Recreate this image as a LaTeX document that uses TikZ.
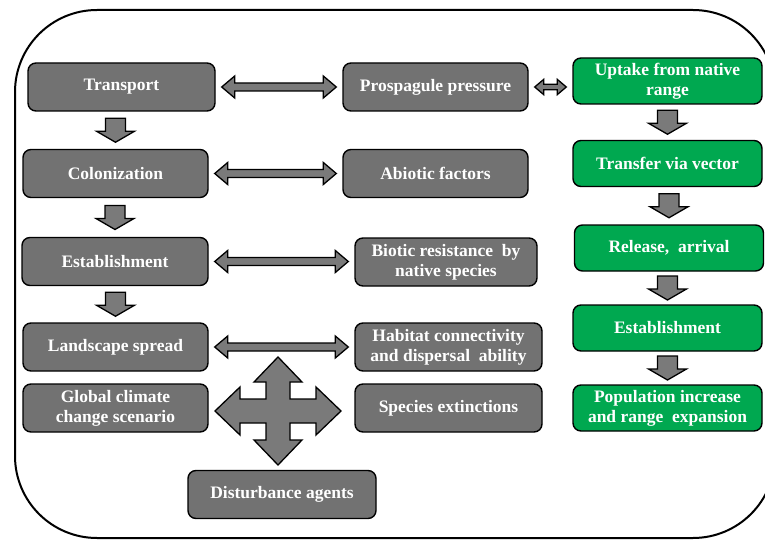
\documentclass[tikz,border=0pt]{standalone}
\usepackage{fontspec}
\setmainfont{Liberation Serif}
\usepackage{xcolor}
\usepackage{tikz}
\usetikzlibrary{calc}

\definecolor{boxgray}{RGB}{114,114,114}
\definecolor{arrowgray}{RGB}{122,122,122}
\definecolor{boxgreen}{RGB}{0,168,80}

\tikzset{
  graybox/.style={draw=black, line width=1.4pt, rounded corners=8pt, fill=boxgray,
    text=white, font=\bfseries\fontsize{17.5}{20}\selectfont, align=center,
    minimum height=48pt, inner sep=2pt},
  greenbox/.style={graybox, fill=boxgreen, minimum height=46pt, minimum width=189pt},
  blockarrow/.style={draw=black, line width=1.3pt, fill=arrowgray, line join=miter}
}

% fat double arrow between two boxes side by side
\newcommand{\dblarrow}[3][1]{%
  \filldraw[blockarrow] let \p1=(#2.east), \p2=(#3.west) in
    (\x1+6pt,\y1) -- (\x1+6pt+13pt*#1,\y1+11pt*#1) -- (\x1+6pt+13pt*#1,\y1+4pt*#1)
    -- (\x2-6pt-13pt*#1,\y1+4pt*#1) -- (\x2-6pt-13pt*#1,\y1+11pt*#1) -- (\x2-6pt,\y1)
    -- (\x2-6pt-13pt*#1,\y1-11pt*#1) -- (\x2-6pt-13pt*#1,\y1-4pt*#1)
    -- (\x1+6pt+13pt*#1,\y1-4pt*#1) -- (\x1+6pt+13pt*#1,\y1-11pt*#1) -- cycle;}

% fat arrow from one box down to the next
\newcommand{\dnarrow}[2]{%
  \filldraw[blockarrow] let \p1=(#1.south), \p2=(#2.north), \n1={(\y1+\y2)/2} in
    (\x2-10pt,\n1+12pt) -- (\x2+10pt,\n1+12pt) -- (\x2+10pt,\n1-1pt)
    -- (\x2+19pt,\n1-1pt) -- (\x2,\n1-12pt) -- (\x2-19pt,\n1-1pt)
    -- (\x2-10pt,\n1-1pt) -- cycle;}

\begin{document}
\begin{tikzpicture}[x=1pt, y=-1pt]
    \useasboundingbox (0,0) rectangle (765,540);
    \clip (0,0) rectangle (765,540);
    \fill[white] (0,0) rectangle (765,540);

    % Outer frame
    \draw[line width=2pt, rounded corners=82pt] (15,10) rectangle (775,538);

    % Define nodes
    \node[graybox, minimum width=187pt] (trans) at (121.5,87) {Transport};
    \node[graybox, minimum width=185pt] (colon) at (115.5,173.5) {Colonization};
    \node[graybox, minimum width=186pt] (estab) at (115,261.5) {Establishment};
    \node[graybox, minimum width=185pt] (land) at (115.5,347) {Landscape spread};
    \node[graybox, minimum width=185pt] (clim) at (115.5,408) {Global climate\\change scenario};
    \node[graybox, minimum width=188pt] (dist) at (282,494.5) {Disturbance agents};

    \node[graybox, minimum width=185pt] (press) at (435.5,87) {Prospagule pressure};
    \node[graybox, minimum width=185pt] (abio) at (435.5,173.5) {Abiotic factors};
    \node[graybox, minimum width=182pt] (biot) at (446,262) {Biotic resistance\ \ by\\native species};
    \node[graybox, minimum width=187pt] (habit) at (448.5,347) {Habitat connectivity\\and dispersal\ \ ability};
    \node[graybox, minimum width=187pt] (exti) at (448.5,408) {Species extinctions};

    \node[greenbox] (uptake) at (667.5,81) {Uptake from native\\range};
    \node[greenbox] (transf) at (667.5,163.5) {Transfer via vector};
    \node[greenbox] (rel) at (669,248) {Release,\ \ arrival};
    \node[greenbox] (gestab) at (667.5,328) {Establishment};
    \node[greenbox] (popul) at (667.5,408) {Population increase\\and range\ \ expansion};

    \coordinate (hub) at (278,411);

    % Draw edges
    \dnarrow{trans}{colon} % Transport to Colonization
    \dnarrow{colon}{estab} % Colonization to Establishment
    \dnarrow{estab}{land} % Establishment to Landscape spread

    \dnarrow{uptake}{transf} % Uptake to Transfer
    \dnarrow{transf}{rel} % Transfer to Release
    \dnarrow{rel}{gestab} % Release to Establishment
    \dnarrow{gestab}{popul} % Establishment to Population

    \dblarrow{trans}{press}
    \dblarrow{colon}{abio}
    \dblarrow{estab}{biot}
    \dblarrow{land}{habit}
    \dblarrow[0.7]{press}{uptake}

    % Four-way arrow
    \filldraw[blockarrow, shift={(hub)}]
      (0,-54) -- (24,-29) -- (12,-29) -- (12,-12) -- (38,-12) -- (38,-24)
      -- (63,0) -- (38,24) -- (38,12) -- (12,12) -- (12,29) -- (24,29)
      -- (0,54) -- (-24,29) -- (-12,29) -- (-12,12) -- (-38,12) -- (-38,24)
      -- (-63,0) -- (-38,-24) -- (-38,-12) -- (-12,-12) -- (-12,-29) -- (-24,-29) -- cycle;
\end{tikzpicture}
\end{document}
